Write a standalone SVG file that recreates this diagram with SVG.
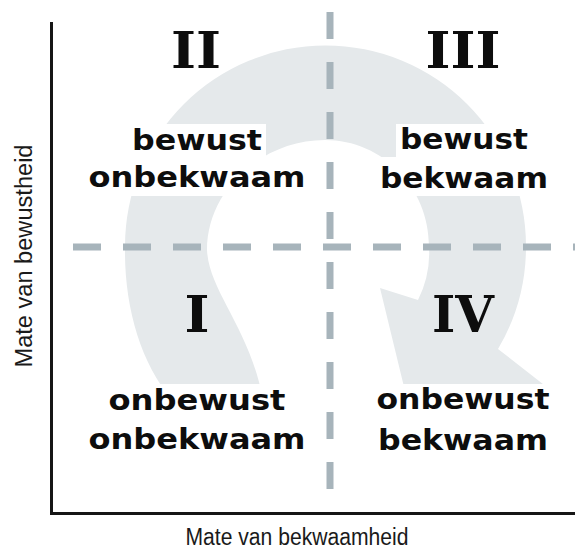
<svg xmlns="http://www.w3.org/2000/svg" width="575" height="551" viewBox="0 0 575 551">
  <style>
    .bg { fill: #ffffff; }
    .band { fill: #e5e9eb; stroke: none; }
    .dash { stroke: #a7b4bb; stroke-width: 7; fill: none; }
    .axis { stroke: #161616; stroke-width: 3; fill: none; }
    .box { fill: #ffffff; }
    .num { font-family: "DejaVu Serif", "Liberation Serif", serif; font-weight: bold; font-size: 50px; fill: #0d0d0d; text-anchor: middle; }
    .lbl { font-family: "DejaVu Sans", Verdana, sans-serif; font-weight: bold; font-size: 28px; fill: #0d0d0d; text-anchor: middle; }
    .axlbl { font-family: "Liberation Sans", Arial, sans-serif; font-size: 23px; fill: #1a1a1a; text-anchor: middle; }
  </style>
  <rect class="bg" x="0" y="0" width="575" height="551"/>

  <g id="connectors">
    <path id="cycle-arrow" class="band" d="M 172 400 C 140 362 124 305 125 246 A 200.5 200.5 0 0 1 526 246 A 201 201 0 0 1 498 349 L 548 388 L 414 428 L 380 288 L 418 300 A 106 106 0 0 0 429 246 C 429 188 383 140 325 140 C 262 140 207 190 207 250 C 209 292 250 328 263 400 Z"/>
  </g>

  <g id="grid">
    <line class="dash" x1="330" y1="12" x2="330" y2="515" stroke-dasharray="27 23"/>
    <line class="dash" x1="73" y1="247" x2="575" y2="247" stroke-dasharray="28 22"/>
  </g>

  <g id="axes">
    <line class="axis" x1="51.5" y1="22" x2="51.5" y2="514"/>
    <line class="axis" x1="50" y1="513.5" x2="575" y2="513.5"/>
  </g>

  <g id="axis-y-label">
    <text class="axlbl" transform="translate(32,256) rotate(-90)" x="0" y="0" textLength="223" lengthAdjust="spacingAndGlyphs">Mate van bewustheid</text>
  </g>
  <g id="axis-x-label">
    <text class="axlbl" x="297" y="545" textLength="223" lengthAdjust="spacingAndGlyphs">Mate van bekwaamheid</text>
  </g>

  <g id="q2">
    <text class="num" x="196" y="68" textLength="50" lengthAdjust="spacingAndGlyphs">II</text>
    <rect class="box" x="128" y="124" width="138" height="34"/>
    <rect class="box" x="84" y="158" width="226" height="38"/>
    <text class="lbl" x="197" y="150" textLength="130" lengthAdjust="spacingAndGlyphs">bewust</text>
    <text class="lbl" x="197" y="187" textLength="217" lengthAdjust="spacingAndGlyphs">onbekwaam</text>
  </g>

  <g id="q3">
    <text class="num" x="463" y="68" textLength="75" lengthAdjust="spacingAndGlyphs">III</text>
    <rect class="box" x="396" y="124" width="136" height="33"/>
    <rect class="box" x="376" y="157" width="176" height="39"/>
    <text class="lbl" x="464" y="149" textLength="128" lengthAdjust="spacingAndGlyphs">bewust</text>
    <text class="lbl" x="464" y="188" textLength="168" lengthAdjust="spacingAndGlyphs">bekwaam</text>
  </g>

  <g id="q1">
    <text class="num" x="197" y="332" textLength="25" lengthAdjust="spacingAndGlyphs">I</text>
    <rect class="box" x="104" y="384" width="186" height="35"/>
    <rect class="box" x="84" y="419" width="226" height="38"/>
    <text class="lbl" x="197" y="410" textLength="177" lengthAdjust="spacingAndGlyphs">onbewust</text>
    <text class="lbl" x="197" y="449" textLength="217" lengthAdjust="spacingAndGlyphs">onbekwaam</text>
  </g>

  <g id="q4">
    <text class="num" x="463" y="332" textLength="62" lengthAdjust="spacingAndGlyphs">IV</text>
    <rect class="box" x="373" y="384" width="180" height="35"/>
    <rect class="box" x="374" y="419" width="178" height="38"/>
    <text class="lbl" x="463" y="409" textLength="173" lengthAdjust="spacingAndGlyphs">onbewust</text>
    <text class="lbl" x="463" y="450" textLength="170" lengthAdjust="spacingAndGlyphs">bekwaam</text>
  </g>
</svg>
